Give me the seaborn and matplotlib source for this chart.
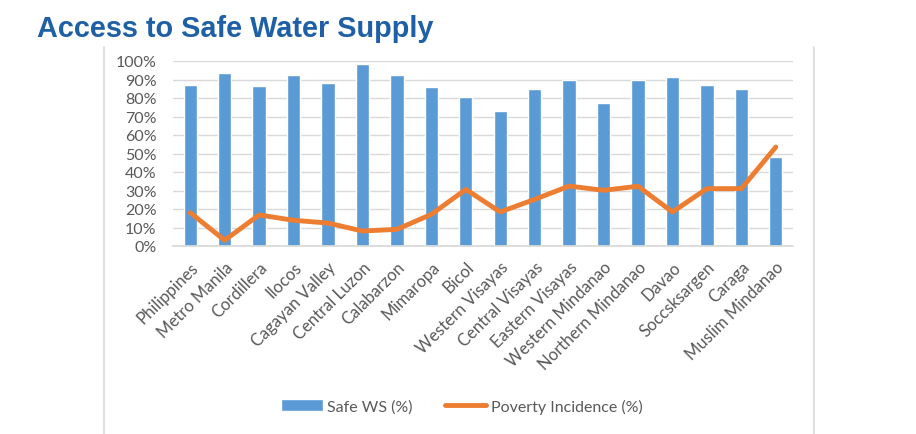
import numpy as np
import pandas as pd
import matplotlib
matplotlib.use('Agg')
import matplotlib.pyplot as plt
import seaborn as sns
from matplotlib.lines import Line2D
from matplotlib.patches import Patch
from matplotlib.ticker import PercentFormatter

# data
regions = ['Philippines', 'Metro Manila', 'Cordillera', 'Ilocos', 'Cagayan Valley',
           'Central Luzon', 'Calabarzon', 'Mimaropa', 'Bicol', 'Western Visayas',
           'Central Visayas', 'Eastern Visayas', 'Western Mindanao', 'Northern Mindanao',
           'Davao', 'Soccsksargen', 'Caraga', 'Muslim Mindanao']
safe_ws = [87.2, 93.7, 86.7, 92.3, 88.1, 98.6, 92.3, 85.8, 80.5, 73.2,
           85.0, 89.9, 77.3, 89.9, 91.4, 87.2, 85.0, 47.9]
poverty = [18.0, 3.1, 16.8, 13.9, 12.4, 8.1, 9.0, 17.1, 30.6, 18.4,
           25.2, 32.4, 30.1, 32.3, 18.4, 31.0, 31.0, 53.5]
y_ticks = [0, 10, 20, 30, 40, 50, 60, 70, 80, 90, 100]

bar_color = '#5B9BD5'
line_color = '#ED7D31'
text_gray = '#595959'

df = pd.DataFrame({'region': regions, 'safe_ws': safe_ws, 'poverty': poverty})

sns.set_theme(style='white')
plt.rcParams['font.family'] = ['Lato', 'DejaVu Sans']

fig = plt.figure(figsize=(9.16, 4.35), dpi=100)
ax = fig.add_axes([173 / 916, 1 - 247 / 435, 620 / 916, 185 / 435])

sns.barplot(data=df, x='region', y='safe_ws', color=bar_color, width=0.39,
            saturation=1, ax=ax, zorder=2)
ax.plot(np.arange(len(regions)), df['poverty'], color=line_color, lw=3.5,
        solid_joinstyle='round', solid_capstyle='round', zorder=3)

ax.set_ylim(0, 100)
ax.set_xlim(-0.5, len(regions) - 0.5)
ax.set_yticks(y_ticks)
ax.yaxis.set_major_formatter(PercentFormatter(decimals=0))
ax.grid(axis='y', color='#d9d9d9', lw=1, zorder=0)
ax.set_axisbelow(True)
for s in ['top', 'right', 'left']:
    ax.spines[s].set_visible(False)
ax.spines['bottom'].set_color('#d9d9d9')
ax.set_xlabel('')
ax.set_ylabel('')
ax.tick_params(axis='both', length=0, labelsize=12, colors=text_gray)
ax.tick_params(axis='x', pad=9)
ax.tick_params(axis='y', pad=12, labelsize=11.5)
ax.set_xticks(np.arange(len(regions)))
ax.set_xticklabels(regions, rotation=45, ha='right', rotation_mode='anchor')

# legend
handles = [Patch(facecolor=bar_color, label='Safe WS (%)'),
           Line2D([0], [0], color=line_color, lw=3.5, label='Poverty Incidence (%)')]
fig.legend(handles=handles, loc='center', bbox_to_anchor=(462 / 916, 1 - 407 / 435),
           ncol=2, frameon=False, fontsize=11.5, labelcolor=text_gray,
           handlelength=2.6, handleheight=0.8, columnspacing=2.0, handletextpad=0.3)

# chart frame lines
fig.add_artist(Line2D([104 / 916, 104 / 916], [0, 1 - 48 / 435],
                      color='#d9d9d9', lw=1.2, transform=fig.transFigure))
fig.add_artist(Line2D([814 / 916, 814 / 916], [0, 1 - 48 / 435],
                      color='#d9d9d9', lw=1.2, transform=fig.transFigure))

fig.text(37 / 916, 1 - 29 / 435, 'Access to Safe Water Supply', color='#1F5FA6',
         fontsize=20.8, fontweight='bold', family='Liberation Sans', va='center')

fig.savefig('out.png', dpi=100)
